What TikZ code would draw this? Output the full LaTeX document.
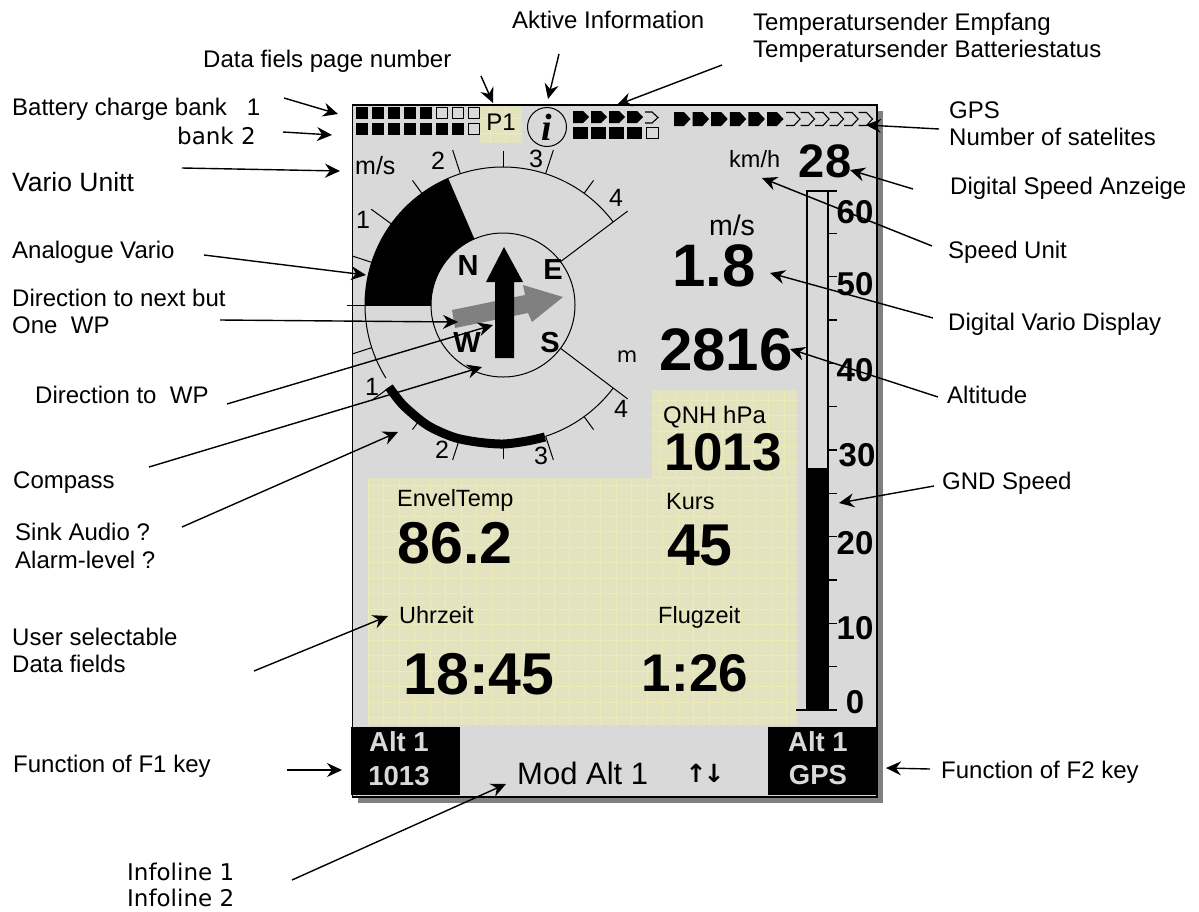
\documentclass[tikz,border=0pt]{standalone}
\usepackage{fontspec}
\setmainfont{Liberation Sans}
\newfontfamily\djvfont{DejaVu Sans}
\newfontfamily\serfont{Liberation Serif}
\usetikzlibrary{arrows.meta, calc}
\definecolor{lcdgrey}{HTML}{D9D9D9}
\definecolor{shadowgrey}{HTML}{808080}
\definecolor{fieldyellow}{HTML}{E3E3C0}
\definecolor{gridyellow}{HTML}{ECECBA}
\newcommand{\fsz}[1]{\fontsize{#1}{#1}\selectfont}
\tikzset{
  lbl/.style={anchor=base west, inner sep=0pt, font=\fsz{24}},
  val/.style={inner sep=0pt, font=\fsz{59}\bfseries},
  captxt/.style={anchor=base west, inner sep=0pt, font=\fsz{23.5}},
  scalenum/.style={inner sep=0pt, font=\fsz{25}},
  compassnum/.style={inner sep=0pt, font=\fsz{29}\bfseries},
  speednum/.style={inner sep=0pt, font=\fsz{33}\bfseries},
  keytxt/.style={inner sep=0pt, font=\fsz{27.5}\bfseries, text=lcdgrey},
  pointer/.style={-{Stealth[length=15,width=14,inset=5]}, line width=1.4},
  fieldgrid/.style={gridyellow, line width=0.45},
  battfull/.style={fill=black},
  battempty/.style={draw=black, line width=0.8}
}
\begin{document}
\begin{tikzpicture}[x=1pt, y=-1pt]
\useasboundingbox (0,0) rectangle (1199,911);
% panel
\fill[shadowgrey] (358,111) rectangle (883,803);
\draw[fill=lcdgrey, line width=1.5] (352.5,105) rectangle (877,797);
% yellow fields
\fill[fieldyellow] (652,390) rectangle (797,478);
\fill[fieldyellow] (368,478) rectangle (797,725);
\fill[fieldyellow] (480,105.7) rectangle (522,143);
\foreach \x in {368,383.5,...,797} \draw[fieldgrid] (\x,478) -- (\x,725);
\foreach \y in {485,500.5,...,725} \draw[fieldgrid] (368,\y) -- (797,\y);
\foreach \x in {660,675.5,...,797} \draw[fieldgrid] (\x,390) -- (\x,478);
\foreach \y in {400,415.5,...,478} \draw[fieldgrid] (652,\y) -- (797,\y);
\foreach \x in {490,505.5} \draw[fieldgrid] (\x,106) -- (\x,143);
\foreach \y in {118,133.5} \draw[fieldgrid] (480,\y) -- (522,\y);
% battery
\foreach \x in {0,...,4} \fill[battfull] ({356+16*\x},107) rectangle +(12,12);
\foreach \x in {5,6,7} \draw[battempty] ({356+16*\x},107.5) rectangle +(11,11);
\foreach \x in {0,...,6} \fill[battfull] ({356+16*\x},123) rectangle +(12,12);
\draw[battempty] (468,123.5) rectangle +(11,11);
% temperature sender
\foreach \x in {573,591,609,627} \fill (\x,111) -- ++(10,0) -- ++(6,6) -- ++(-6,6) -- ++(-10,0) -- cycle;
\draw[line width=1.1] (645,112) -- ++(7,0) -- ++(6,5.5) -- ++(-6,5.5) -- ++(-7,0);
\foreach \x in {573,591,609,627} \fill (\x,127) rectangle +(15,11.5);
\draw[battempty] (646,127.5) rectangle +(12,11);
% gps
\foreach \i in {0,...,5} \fill ({674+18.6*\i},112) -- ++(10,0) -- ++(6.5,7) -- ++(-6.5,7) -- ++(-10,0) -- cycle;
\foreach \i in {0,...,5} \draw[line width=1.1] ({786+14.5*\i},112.5) -- ++(8,0) -- ++(6,6.5) -- ++(-6,6.5) -- ++(-8,0);
% compass
\begin{scope}[shift={(503,305)}, x=1pt, y=1pt]
  \fill (113.4:72) -- (113.4:138) arc (113.4:180:138) -- (180:72) arc (180:113.4:72) -- cycle;
  \draw[line width=1] (37:138) arc (37:212:138);
  \draw[line width=1] (288:138) arc (288:323:138);
  \draw[line width=1] (0,0) circle (72);
  \foreach \a in {54,90,126,234,270,306} \draw[line width=1] (\a:138) -- (\a:154);
  \foreach \a in {72,108,144,216,252,288} \draw[line width=1] (\a:138) -- (\a:163);
  \foreach \a in {162,198} \draw[line width=1] (\a:138) -- (\a:158);
  \foreach \a in {37,180,323} \draw[line width=1] (\a:72) -- (\a:156);
  % grey direction arrow
  \fill[shadowgrey] (-51,-5) -- (22,10) -- (20,20) -- (60,8) -- (29,-17) -- (25,-8) -- (-48,-23) -- cycle;
\end{scope}
% sink level
\draw[line width=9] plot[smooth] coordinates {(389,387) (403,405) (427,425) (453,437) (477,442) (503,444) (527,441) (545,437)};
\fill (495,358) -- (495,282) -- (486,282) -- (504,247) -- (523,282) -- (514,282) -- (514,358) -- cycle;
\node[compassnum] (dirN) at (468,266) {N};
\node[compassnum] (dirE) at (553,270) {E};
\node[compassnum] (dirW) at (467,343) {W};
\node[compassnum] (dirS) at (550,343) {S};
\node[scalenum] (up1) at (363,220) {1};
\node[scalenum] (up2) at (438,161) {2};
\node[scalenum] (up3) at (536,159) {3};
\node[scalenum] (up4) at (616,198) {4};
\node[scalenum] (low1) at (372,387) {1};
\node[scalenum] (low2) at (442,450) {2};
\node[scalenum] (low3) at (541,456) {3};
\node[scalenum] (low4) at (621,409) {4};
% speed bar
\fill (807,468) rectangle (828,710);
\draw[line width=1.4] (837,191) -- (807,191) -- (807,710);
\draw[line width=1.4] (828,191) -- (828,710);
\draw[line width=1.4] (796,710) -- (837,710);
\foreach \i in {1,...,11} \draw[line width=1.2] (828,{710-43.33*\i}) -- +(9,0);
\node[speednum] (spd60) at (855,212) {60};
\node[speednum] (spd50) at (855,284) {50};
\node[speednum] (spd40) at (855,370) {40};
\node[speednum] (spd30) at (857,455) {30};
\node[speednum] (spd20) at (855,543) {20};
\node[speednum] (spd10) at (855,628) {10};
\node[speednum] (spd0) at (855,702) {0};
% top row
\node[inner sep=0pt, font=\fsz{24}] (pagenr) at (501,122) {P1};
\node[draw, circle, line width=1, minimum size=39, inner sep=0pt, font=\serfont\fsz{38}\bfseries\itshape] (infoi) at (547,127) {i};
\node[scalenum, anchor=base west] (varounit) at (355,174) {m/s};
% values
\node[captxt] (kmhunit) at (729,167) {km/h};
\node[val, font=\fsz{47}\bfseries] (speedval) at (825,161) {28};
\node[inner sep=0pt, font=\fsz{28.5}] (msunit) at (732,225) {m/s};
\node[val, font=\fsz{60}\bfseries] (varioval) at (714,266) {1.8};
\node[inner sep=0pt, font=\djvfont\fsz{21}] (altunit) at (627,357) {m};
\node[val, font=\fsz{60}\bfseries] (altval) at (726,350) {2816};
\node[captxt, font=\fsz{24}] (qnhcap) at (663,423.5) {QNH hPa};
\node[val, font=\fsz{53}\bfseries] (qnhval) at (723,452) {1013};
\node[captxt] (kurscap) at (666,509) {Kurs};
\node[val] (kursval) at (700,545) {45};
\node[captxt] (envcap) at (397,506) {EnvelTemp};
\node[val] (envval) at (455,543) {86.2};
\node[captxt] (uhrcap) at (399,623) {Uhrzeit};
\node[captxt] (flugcap) at (658,623) {Flugzeit};
\node[val] (uhrval) at (479,674) {18:45};
\node[val, font=\fsz{53}\bfseries] (flugval) at (695,673) {1:26};
% function keys
\fill (351,727) rectangle (460,795);
\fill (767.5,727) rectangle (877.5,795);
\node[keytxt] (fonealt) at (399,742) {Alt 1};
\node[keytxt] (foneval) at (399,776) {1013};
\node[keytxt] (ftwoalt) at (818,742) {Alt 1};
\node[keytxt] (ftwoval) at (818,775) {GPS};
\node[captxt, font=\fsz{31}] (modline) at (517,784) {Mod Alt 1};
\node[inner sep=0pt, font=\djvfont\fsz{25}\bfseries] (updown) at (705,773) {↑\kern-3pt↓};
% labels
\node[lbl] (lblactive) at (512,28) {Aktive Information};
\node[lbl] (lbltempa) at (753,30) {Temperatursender Empfang};
\node[lbl] (lbltempb) at (753,57) {Temperatursender Batteriestatus};
\node[lbl] (lblpage) at (203,67) {Data fiels page number};
\node[lbl] (lblbatt) at (12,115) {Battery charge bank~~~1};
\node[lbl, font=\djvfont\fsz{23}] (lblbank) at (177,144) {bank 2};
\node[lbl] (lblgps) at (949,118) {GPS};
\node[lbl] (lblsats) at (949,145) {Number of satelites};
\node[lbl, font=\fsz{26.5}] (lblvunit) at (12,191) {Vario Unitt};
\node[lbl] (lblspeed) at (950,194) {Digital Speed Anzeige};
\node[lbl] (lblanalog) at (12,258) {Analogue Vario};
\node[lbl] (lblsunit) at (948,258) {Speed Unit};
\node[lbl] (lblnext) at (12,306) {Direction to next but};
\node[lbl] (lblone) at (12,333) {One~~WP};
\node[lbl] (lbldvario) at (948,330) {Digital Vario Display};
\node[lbl] (lbldir) at (35,403) {Direction to~~WP};
\node[lbl] (lblalt) at (947,403) {Altitude};
\node[lbl] (lblcomp) at (13,488) {Compass};
\node[lbl] (lblgnd) at (942,489) {GND Speed};
\node[lbl] (lblsink) at (15,540) {Sink Audio ?};
\node[lbl] (lblalarm) at (15,568) {Alarm-level ?};
\node[lbl] (lbluser) at (12,645) {User selectable};
\node[lbl] (lbldata) at (12,672) {Data fields};
\node[lbl] (lblfone) at (13,772) {Function of F1 key};
\node[lbl] (lblftwo) at (941,778) {Function of F2 key};
\node[lbl, font=\djvfont\fsz{23}] (lblinfoa) at (127,880) {Infoline 1};
\node[lbl, font=\djvfont\fsz{23}] (lblinfob) at (127,906) {Infoline 2};
% pointer tips
\coordinate (tippage) at (493,103);
\coordinate (tipactive) at (548,99);
\coordinate (tiptemp) at (617,105);
\coordinate (tipbatt) at (338,114);
\coordinate (tipbank) at (332,135);
\coordinate (tipvunit) at (340,171);
\coordinate (tipanalog) at (366,275);
\coordinate (tipnext) at (458,322);
\coordinate (tipdir) at (493,325);
\coordinate (tipcomp) at (482,367);
\coordinate (tipsink) at (398,432);
\coordinate (tipuser) at (388,616);
\coordinate (tipfone) at (342,770);
\coordinate (tipinfo) at (506,784);
\coordinate (tipftwo) at (886,768);
\coordinate (tipsats) at (866,125);
\coordinate (tipspeed) at (850,170);
\coordinate (tipsunit) at (762,178);
\coordinate (tipdvario) at (770,273);
\coordinate (tipalt) at (790,349);
\coordinate (tipgnd) at (839,503);
% pointers
\draw[pointer] ([shift={(278,9)}]lblpage.base west) -- (tippage);
\draw[pointer] ([shift={(47,26)}]lblactive.base west) -- (tipactive);
\draw[pointer] ([shift={(-31,8)}]lbltempb.base west) -- (tiptemp);
\draw[pointer] ([shift={(272,-17)}]lblbatt.base west) -- (tipbatt);
\draw[pointer] ([shift={(106,-12)}]lblbank.base west) -- (tipbank);
\draw[pointer] ([shift={(170,-23)}]lblvunit.base west) -- (tipvunit);
\draw[pointer] ([shift={(192,-3)}]lblanalog.base west) -- (tipanalog);
\draw[pointer] ([shift={(208,-13)}]lblone.base west) -- (tipnext);
\draw[pointer] ([shift={(192,1)}]lbldir.base west) -- (tipdir);
\draw[pointer] ([shift={(136,-21)}]lblcomp.base west) -- (tipcomp);
\draw[pointer] ([shift={(167,-13)}]lblsink.base west) -- (tipsink);
\draw[pointer] ([shift={(242,-1)}]lbldata.base west) -- (tipuser);
\draw[pointer] ([shift={(274,-2)}]lblfone.base west) -- (tipfone);
\draw[pointer] ([shift={(165,0)}]lblinfoa.base west) -- (tipinfo);
\draw[pointer] ([shift={(-11,-9)}]lblftwo.base west) -- (tipftwo);
\draw[pointer] ([shift={(-10,-16)}]lblsats.base west) -- (tipsats);
\draw[pointer] ([shift={(-37,-5)}]lblspeed.base west) -- (tipspeed);
\draw[pointer] ([shift={(-16,-12)}]lblsunit.base west) -- (tipsunit);
\draw[pointer] ([shift={(-15,-12)}]lbldvario.base west) -- (tipdvario);
\draw[pointer] ([shift={(-9,-6)}]lblalt.base west) -- (tipalt);
\draw[pointer] ([shift={(-8,-3)}]lblgnd.base west) -- (tipgnd);
\end{tikzpicture}
\end{document}
